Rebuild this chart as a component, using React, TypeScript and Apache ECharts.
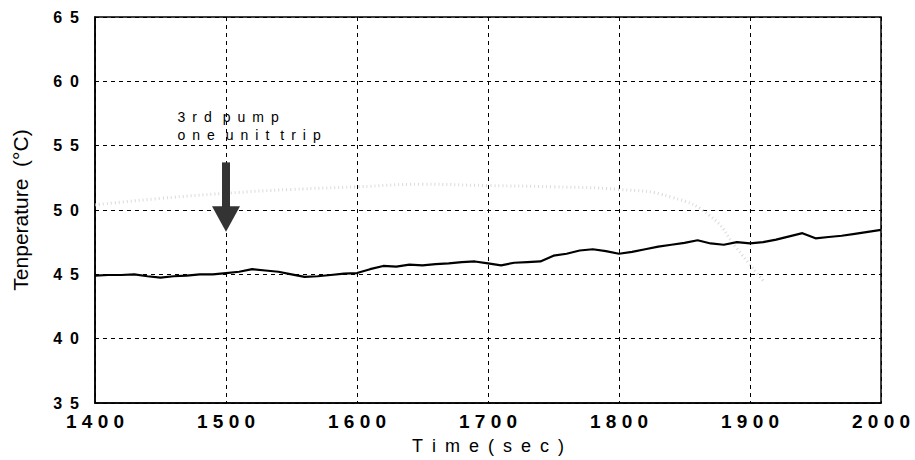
import React, { useEffect, useRef } from "react";
import * as echarts from "echarts";

// ---- data ----
const times: number[] = [
  1400, 1410, 1420, 1430, 1440, 1450, 1460, 1470, 1480, 1490,
  1500, 1510, 1520, 1530, 1540, 1550, 1560, 1570, 1580, 1590,
  1600, 1610, 1620, 1630, 1640, 1650, 1660, 1670, 1680, 1690,
  1700, 1710, 1720, 1730, 1740, 1750, 1760, 1770, 1780, 1790,
  1800, 1810, 1820, 1830, 1840, 1850, 1860, 1870, 1880, 1890,
  1900, 1910, 1920, 1930, 1940, 1950, 1960, 1970, 1980, 1990, 2000,
];
const temperature: number[] = [
  44.9, 44.95, 44.95, 45.0, 44.85, 44.75, 44.85, 44.9, 45.0, 45.0,
  45.1, 45.2, 45.4, 45.3, 45.2, 45.0, 44.8, 44.85, 44.95, 45.05,
  45.1, 45.4, 45.65, 45.6, 45.75, 45.7, 45.8, 45.85, 45.95, 46.0,
  45.85, 45.7, 45.9, 45.95, 46.0, 46.45, 46.6, 46.85, 46.95, 46.8,
  46.6, 46.75, 46.95, 47.15, 47.3, 47.45, 47.65, 47.4, 47.3, 47.5,
  47.4, 47.5, 47.7, 47.95, 48.2, 47.8, 47.9, 48.0, 48.15, 48.3, 48.45,
];
// faint trace visible in the background of the reference
const ghostTimes: number[] = [1400, 1450, 1500, 1550, 1600, 1650, 1700, 1750, 1800, 1840, 1870, 1890, 1910];
const ghostValues: number[] = [50.4, 50.9, 51.3, 51.6, 51.8, 52.0, 51.9, 51.8, 51.6, 51.0, 49.5, 47.0, 44.5];

const xTicks = { min: 1400, max: 2000, interval: 100 };
const yTicks = { min: 35, max: 65, interval: 5 };

const EN = "\u2002";
const spaceOut = (s: string) =>
  s.split(" ").map((w) => w.split("").join(EN)).join(EN + " ");
const annotationLines: string[] = [spaceOut("3rd pump"), spaceOut("one unit trip")];
const xAxisTitle = "Time(sec)".split("").join(EN);
const yAxisTitle = "Tenperature  (°C)";
const annotationAt = { x: 1463, y1: 57.2, y2: 55.85 };
const arrowAt = { x: 1500, top: 53.7, head: 50.3, tip: 48.3 };

export default function App() {
  const ref = useRef<HTMLDivElement>(null);
  useEffect(() => {
    document.body.style.margin = "0";
    if (!ref.current) return;
    const chart = echarts.init(ref.current, null, { renderer: "svg" });
    const font = "'Liberation Sans', Arial, sans-serif";
    chart.setOption({
      animation: false,
      backgroundColor: "#ffffff",
      grid: {
        left: 95,
        right: 34,
        top: 17,
        bottom: 55,
        show: true,
        borderColor: "#000",
        borderWidth: 1.5,
      },
      xAxis: {
        type: "value",
        min: xTicks.min,
        max: xTicks.max,
        interval: xTicks.interval,
        name: xAxisTitle,
        nameLocation: "middle",
        nameGap: 34,
        nameTextStyle: { color: "#000", fontSize: 18, fontFamily: font },
        axisLine: { show: true, lineStyle: { color: "#000", width: 1.5 } },
        axisTick: { show: false },
        axisLabel: {
          color: "#000",
          fontSize: 19,
          lineHeight: 16,
          fontWeight: "bold",
          fontFamily: font,
          margin: 10,
          formatter: (v: number) => String(v).split("").join(" "),
        },
        splitLine: { show: true, lineStyle: { color: "#000", type: [4, 4], width: 1 } },
      },
      yAxis: {
        type: "value",
        min: yTicks.min,
        max: yTicks.max,
        interval: yTicks.interval,
        name: yAxisTitle,
        nameLocation: "middle",
        nameGap: 64,
        nameTextStyle: { color: "#000", fontSize: 21, fontFamily: font },
        axisLine: { show: true, lineStyle: { color: "#000", width: 1.5 } },
        axisTick: { show: false },
        axisLabel: {
          color: "#000",
          fontSize: 16,
          lineHeight: 12,
          fontWeight: "bold",
          fontFamily: font,
          margin: 16,
          formatter: (v: number) => String(v).split("").join(EN),
        },
        splitLine: { show: true, lineStyle: { color: "#000", type: [4, 4], width: 1 } },
      },
      series: [
        {
          type: "line",
          name: "ghost",
          data: ghostTimes.map((t, i) => [t, ghostValues[i]]),
          showSymbol: false,
          smooth: true,
          silent: true,
          lineStyle: { color: "#dadada", width: 3, type: [1, 3] },
          z: 1,
        },
        {
          type: "line",
          name: "Temperature",
          data: times.map((t, i) => [t, temperature[i]]),
          showSymbol: false,
          lineStyle: { color: "#000", width: 2.2 },
          z: 3,
        },
      ],
    });

    const p = (x: number, y: number) => chart.convertToPixel({ gridIndex: 0 }, [x, y]) as number[];
    const top = p(arrowAt.x, arrowAt.top);
    const head = p(arrowAt.x, arrowAt.head);
    const tip = p(arrowAt.x, arrowAt.tip);
    const t1 = p(annotationAt.x, annotationAt.y1);
    const t2 = p(annotationAt.x, annotationAt.y2);
    chart.setOption({
      graphic: [
        {
          type: "rect",
          shape: { x: top[0] - 4, y: top[1], width: 8, height: head[1] - top[1] + 1 },
          style: { fill: "#333" },
          z: 10,
        },
        {
          type: "polygon",
          shape: {
            points: [
              [head[0] - 14, head[1]],
              [head[0] + 14, head[1]],
              [tip[0], tip[1]],
            ],
          },
          style: { fill: "#333" },
          z: 10,
        },
        {
          type: "text",
          x: t1[0],
          y: t1[1],
          style: {
            text: annotationLines[0],
            fill: "#000",
            font: `14px ${font}`,
            verticalAlign: "middle",
            align: "left",
          },
          z: 10,
        },
        {
          type: "text",
          x: t2[0],
          y: t2[1],
          style: {
            text: annotationLines[1],
            fill: "#000",
            font: `14px ${font}`,
            verticalAlign: "middle",
            align: "left",
          },
          z: 10,
        },
      ],
    });
    return () => chart.dispose();
  }, []);
  return (
    <div
      ref={ref}
      style={{ position: "absolute", left: 0, top: 0, width: 915, height: 460 }}
    />
  );
}
